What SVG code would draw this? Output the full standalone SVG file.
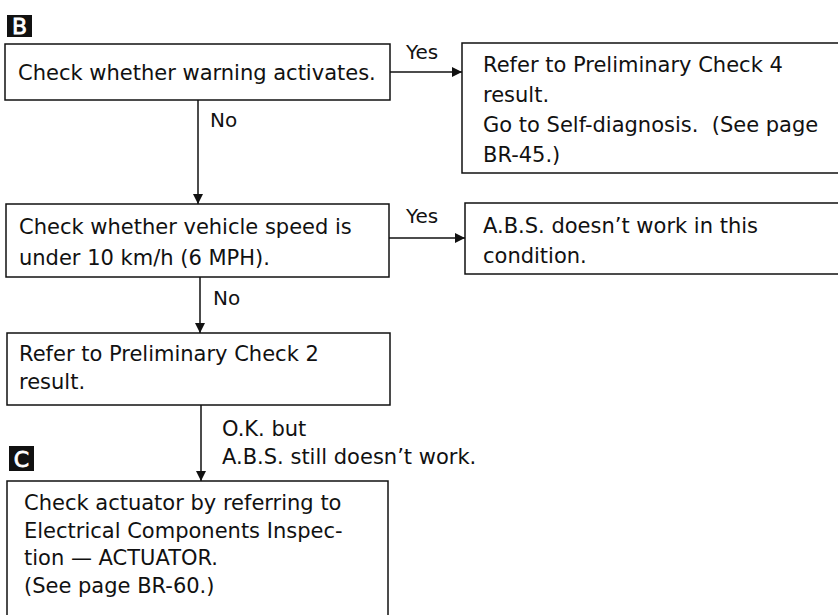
<svg xmlns="http://www.w3.org/2000/svg" width="838" height="615" viewBox="0 0 838 615">
<defs>
<style>
.box{fill:#fff;stroke:#111;stroke-width:1.5}
.t{font-family:"DejaVu Sans","Liberation Sans",sans-serif;font-size:21px;fill:#111}
.l{font-family:"DejaVu Sans","Liberation Sans",sans-serif;font-size:20px;fill:#111}
.ln{fill:none;stroke:#111;stroke-width:1.5}
.mk{fill:#111}
.mt{font-family:"DejaVu Sans","Liberation Sans",sans-serif;font-size:22px;fill:#fff;stroke:#fff;stroke-width:0.8}
</style>
<marker id="ah" viewBox="0 0 10 10" refX="10" refY="5" markerWidth="11" markerHeight="10" markerUnits="userSpaceOnUse" orient="auto">
<path d="M0,0 L10,5 L0,10 z" fill="#111"/>
</marker>
</defs>
<rect width="838" height="615" fill="#fff"/>
<g id="markerB"><rect class="mk" x="7" y="15" width="25" height="22"/><text class="mt" x="19.5" y="34" text-anchor="middle">B</text></g>
<g id="markerC"><rect class="mk" x="9" y="446" width="25" height="25"/><text class="mt" x="21.5" y="466.5" text-anchor="middle">C</text></g>
<g id="connectors">
<line class="ln" x1="390" y1="72" x2="462" y2="72" marker-end="url(#ah)"/>
<line class="ln" x1="198" y1="100" x2="198" y2="204" marker-end="url(#ah)"/>
<line class="ln" x1="389" y1="238" x2="465" y2="238" marker-end="url(#ah)"/>
<line class="ln" x1="200" y1="277" x2="200" y2="333" marker-end="url(#ah)"/>
<line class="ln" x1="201" y1="405" x2="201" y2="481" marker-end="url(#ah)"/>
<text class="l" x="406" y="59">Yes</text>
<text class="l" x="210" y="127">No</text>
<text class="l" x="406" y="223">Yes</text>
<text class="l" x="213" y="305">No</text>
<text class="t" x="222" y="436">O.K. but</text>
<text class="t" x="222" y="464">A.B.S. still doesn’t work.</text>
</g>
<g id="n1"><rect class="box" x="5" y="44" width="385" height="56"/><text class="t" x="18" y="80">Check whether warning activates.</text></g>
<g id="n2"><rect class="box" x="462" y="43" width="380" height="130"/>
<text class="t" x="483" y="72">Refer to Preliminary Check 4</text>
<text class="t" x="483" y="102">result.</text>
<text class="t" x="483" y="132">Go to Self-diagnosis.&#160; (See page</text>
<text class="t" x="483" y="162">BR-45.)</text></g>
<g id="n3"><rect class="box" x="6" y="204" width="383" height="73"/>
<text class="t" x="19" y="234">Check whether vehicle speed is</text>
<text class="t" x="19" y="265">under 10 km/h (6 MPH).</text></g>
<g id="n4"><rect class="box" x="465" y="203" width="377" height="71"/>
<text class="t" x="483" y="233">A.B.S. doesn’t work in this</text>
<text class="t" x="483" y="263">condition.</text></g>
<g id="n5"><rect class="box" x="7" y="333" width="383" height="72"/>
<text class="t" x="19" y="361">Refer to Preliminary Check 2</text>
<text class="t" x="19" y="389">result.</text></g>
<g id="n6"><rect class="box" x="7" y="481" width="381" height="145"/>
<text class="t" x="24" y="510">Check actuator by referring to</text>
<text class="t" x="24" y="538">Electrical Components Inspec-</text>
<text class="t" x="24" y="565">tion — ACTUATOR.</text>
<text class="t" x="24" y="593">(See page BR-60.)</text></g>
</svg>
